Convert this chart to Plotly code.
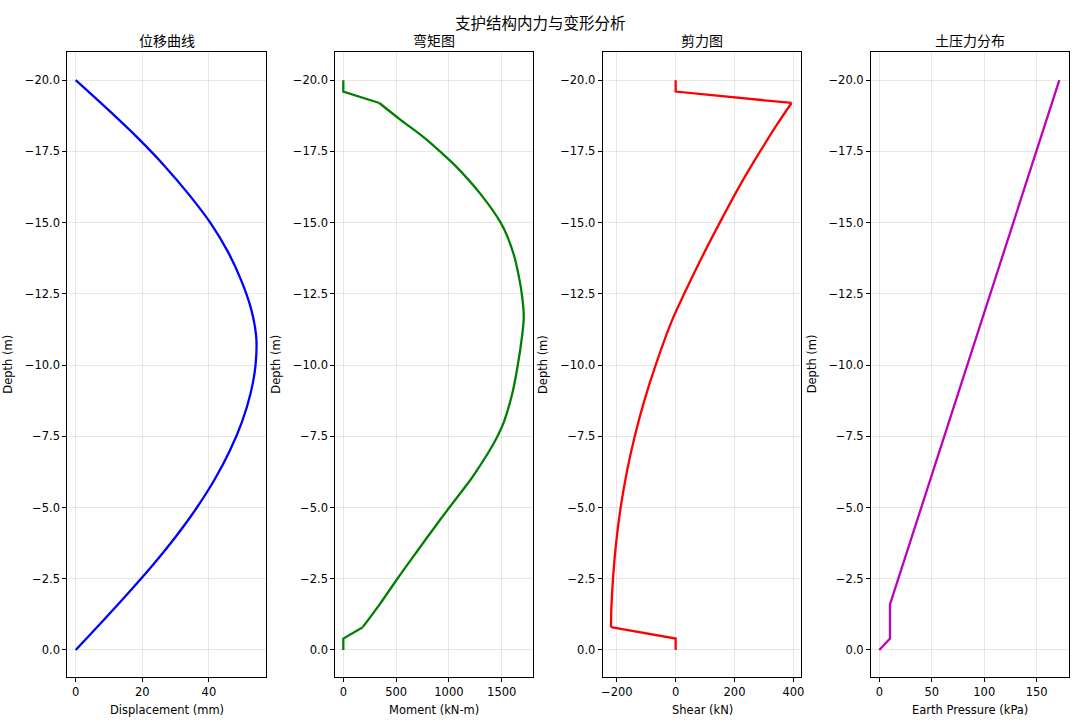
import plotly.graph_objects as go

# ---------------- data ----------------
disp_depth = [0, -1, -2, -3, -4, -5, -6, -7, -8, -9, -10, -11, -12, -13, -14, -15, -16, -17, -18, -19, -20]
disp_mm = [0, 8.0, 15.8, 23.3, 30.2, 36.4, 41.8, 46.3, 49.9, 52.5, 54.0, 54.2, 52.6, 49.6, 45.6, 40.4, 33.9, 26.6, 18.4, 9.4, 0]

moment_depth = [0, -0.4, -0.8, -1.6, -2.5, -3.5, -4.5, -5, -6, -6.3, -7, -7.5, -8, -9, -10, -11, -11.6,
                -12, -12.5, -13, -13.8, -14.5, -15, -16, -17, -17.5, -18, -18.6, -19.2, -19.6, -20]
moment_knm = [0, 0, 184, 344, 512, 706, 903, 1004, 1210, 1265, 1385, 1460, 1520, 1600, 1652, 1692, 1708,
              1705, 1690, 1668, 1620, 1555, 1490, 1300, 1060, 915, 760, 545, 341, 0, 0]

shear_depth = [0, -0.4, -0.8, -1.6, -2.5, -3.7, -5, -6.3, -7.5, -8.7, -10, -11.5, -12.5, -13.8, -15,
               -16.3, -17.5, -18.5, -19.2, -19.6, -20]
shear_kn = [0, 0, -220, -218, -213, -203, -187, -165, -139, -108, -68, -15, 29, 90, 150,
            218, 287, 348, 394, 0, 0]

press_depth = [0, -0.4, -1.6, -20]
press_kpa = [0, 10.2, 10.2, 171.6]

main_title = "支护结构内力与变形分析"
sub_titles = ["位移曲线", "弯矩图", "剪力图", "土压力分布"]
x_titles = ["Displacement (mm)", "Moment (kN-m)", "Shear (kN)", "Earth Pressure (kPa)"]
y_title = "Depth (m)"
y_ticks = [-20, -17.5, -15, -12.5, -10, -7.5, -5, -2.5, 0]
x_ticks = [[0, 20, 40], [0, 500, 1000, 1500], [-200, 0, 200, 400], [0, 50, 100, 150]]

# ---------------- layout ----------------
W, H = 1080, 720
panels_px = [(67.3, 265.7), (335.3, 533.3), (602.7, 801.3), (871.0, 1069.0)]
x_ranges = [[-2.52, 57.05], [-75.8, 1799], [-248, 427], [-7.9, 180.8]]
y_range = [0.95, -21.0]
top_px, bot_px = 51.7, 677.0

colors = ["#0000ff", "#008000", "#ff0000", "#bf00bf"]

FONT = "DejaVu Sans, Liberation Sans, sans-serif"
CJK = "Noto Sans CJK SC, Noto Sans CJK JP, sans-serif"


def px_x(p):
    return p / W


def px_y(p):
    return 1 - p / H


y_dom = [px_y(bot_px), px_y(top_px)]

fig = go.Figure()


def add_line(xs, ys, col, shape, n):
    fig.add_trace(go.Scatter(x=xs, y=ys, mode="lines",
                             line=dict(color=col, width=2.3, shape=shape, smoothing=1.0),
                             xaxis="x" + n, yaxis="y" + n, hoverinfo="skip"))


# panel 1: displacement (smooth)
add_line(disp_mm, disp_depth, colors[0], "spline", "")
# panel 2: moment — straight end pieces, smooth body
add_line(moment_knm[:3], moment_depth[:3], colors[1], "linear", "2")
add_line(moment_knm[2:-2], moment_depth[2:-2], colors[1], "spline", "2")
add_line(moment_knm[-3:], moment_depth[-3:], colors[1], "linear", "2")
# panel 3: shear — straight end pieces, smooth body
add_line(shear_kn[:3], shear_depth[:3], colors[2], "linear", "3")
add_line(shear_kn[2:-2], shear_depth[2:-2], colors[2], "spline", "3")
add_line(shear_kn[-3:], shear_depth[-3:], colors[2], "linear", "3")
# panel 4: earth pressure
add_line(press_kpa, press_depth, colors[3], "linear", "4")

layout = dict(
    width=W, height=H,
    margin=dict(l=0, r=0, t=0, b=0),
    paper_bgcolor="white", plot_bgcolor="white",
    showlegend=False,
    font=dict(family=FONT, size=11.5, color="black"),
)

annotations = [dict(text=main_title, x=px_x(540), y=px_y(22),
                    xref="paper", yref="paper",
                    showarrow=False, xanchor="center", yanchor="middle",
                    font=dict(family=CJK, size=15.5, color="black"))]

grid = "rgba(176,176,176,0.3)"
for i, (x0, x1) in enumerate(panels_px):
    n = "" if i == 0 else str(i + 1)
    common = dict(showline=True, mirror=True, linecolor="black", linewidth=1,
                  ticks="outside", ticklen=4, tickwidth=1, tickcolor="black",
                  showgrid=True, gridcolor=grid, gridwidth=0.8, zeroline=False,
                  tickfont=dict(family=FONT, size=11.5, color="black"), automargin=False)
    layout["xaxis" + n] = dict(domain=[px_x(x0), px_x(x1)], anchor="y" + n,
                               range=x_ranges[i], tickvals=x_ticks[i], **common)
    layout["yaxis" + n] = dict(domain=y_dom, anchor="x" + n, range=y_range,
                               tickvals=y_ticks, tickformat=".1f", **common)
    # subplot title
    annotations.append(dict(text=sub_titles[i], x=px_x((x0 + x1) / 2), y=px_y(40),
                            xref="paper", yref="paper", showarrow=False,
                            xanchor="center", yanchor="middle",
                            font=dict(family=CJK, size=14, color="black")))
    # x axis title
    annotations.append(dict(text=x_titles[i], x=px_x((x0 + x1) / 2), y=px_y(710),
                            xref="paper", yref="paper", showarrow=False,
                            xanchor="center", yanchor="middle",
                            font=dict(family=FONT, size=11.5, color="black")))
    # y axis title
    annotations.append(dict(text=y_title, x=px_x(x0 - 59), y=px_y((top_px + bot_px) / 2),
                            xref="paper", yref="paper", showarrow=False, textangle=-90,
                            xanchor="center", yanchor="middle",
                            font=dict(family=FONT, size=11.5, color="black")))

layout["annotations"] = annotations
fig.update_layout(**layout)
fig.write_html("out.html",
               config={"displayModeBar": False},
               post_script="document.body.style.margin='0';document.body.style.overflow='hidden';")
